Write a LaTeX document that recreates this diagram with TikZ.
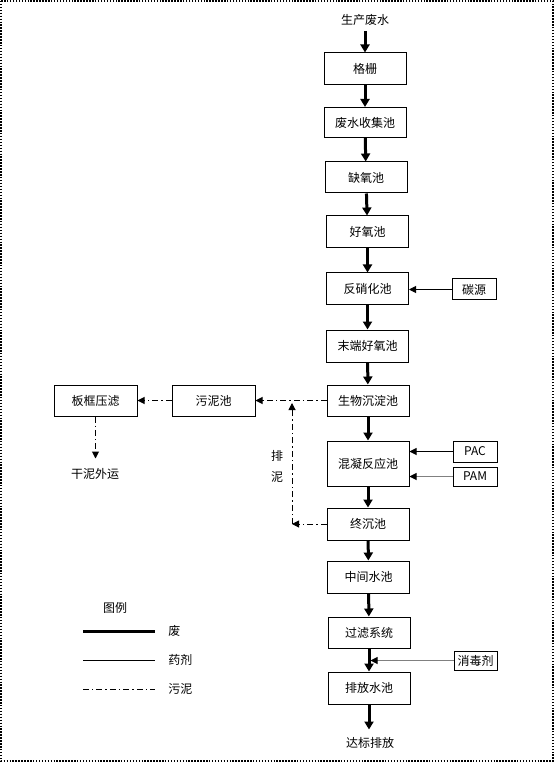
\documentclass[tikz,border=0pt]{standalone}
\usepackage{fontspec}
\setmainfont{Noto Sans CJK SC}
\usetikzlibrary{arrows.meta}
\begin{document}
\begin{tikzpicture}[x=0.75pt,y=-0.75pt,
  box/.style={draw,line width=0.75pt,minimum width=61.5pt,minimum height=24pt,inner sep=0pt,font=\fontsize{9pt}{10pt}\selectfont},
  sbox/.style={draw,line width=0.75pt,minimum width=33pt,minimum height=15pt,inner sep=0pt,font=\fontsize{9pt}{10pt}\selectfont},
  lbl/.style={inner sep=0pt,font=\fontsize{9pt}{10pt}\selectfont},
  water/.style={line width=2.25pt,-{Triangle[length=6pt,width=6.75pt]}},
  chem/.style={line width=0.75pt,-{Triangle[length=5.25pt,width=5.25pt]}},
  graychem/.style={line width=0.75pt,draw=black!50,-{Triangle[length=5.25pt,width=5.25pt,color=black]}},
  sludge/.style={line width=0.75pt,dash pattern=on 4.5pt off 2.25pt on 1.1pt off 2.25pt,-{Triangle[length=5.25pt,width=5.25pt]}},
  sludgeline/.style={line width=0.75pt,dash pattern=on 4.5pt off 2.25pt on 1.1pt off 2.25pt}]
\useasboundingbox (0,0) rectangle (554,762);
\draw[line width=1.1pt,dash pattern=on 1.1pt off 1.1pt] (1,1) rectangle (553,761);

\node[lbl] (src) at (365,20) {生产废水};
\node[box] (gs) at (365,69) {格栅};
\node[box,minimum height=22.5pt] (sj) at (365,122.5) {废水收集池};
\node[box,minimum height=23.25pt] (qy) at (366,177.5) {缺氧池};
\node[box] (hy) at (367.5,232) {好氧池};
\node[box] (fx) at (367.5,289) {反硝化池};
\node[box] (md) at (367.5,346) {末端好氧池};
\node[box,minimum height=23.25pt] (sw) at (368,400.5) {生物沉淀池};
\node[box,minimum height=33.75pt] (hn) at (368,463.5) {混凝反应池};
\node[box] (zc) at (368,524) {终沉池};
\node[box] (zj) at (368.5,577) {中间水池};
\node[box,minimum height=23.25pt] (gl) at (369,632.5) {过滤系统};
\node[box] (pf) at (369,688) {排放水池};
\node[lbl] (out) at (370,743) {达标排放};

\node[sbox,minimum height=15.75pt] (ty) at (474,289.5) {碳源};
\node[sbox,minimum height=15.75pt] (pac) at (475,451.5) {PAC};
\node[sbox,minimum height=14.25pt] (pam) at (475,476.5) {PAM};
\node[sbox,minimum width=32.25pt,minimum height=14.25pt] (xd) at (475.5,660.5) {消毒剂};

\node[box,minimum width=62.25pt,minimum height=23.25pt] (wn) at (213.5,400.5) {污泥池};
\node[box,minimum width=62.25pt,minimum height=23.25pt] (bk) at (95.5,400.5) {板框压滤};
\node[lbl] (gn) at (95,474) {干泥外运};
\node[lbl] (pn1) at (277,456) {排};
\node[lbl] (pn2) at (277,477) {泥};

% water line
\draw[water] (src.south) ++(0,5) coordinate (s0) -- (gs.north);
\draw[water] (gs) -- (sj);
\draw[water] (sj) -- (qy);
\draw[water] (qy) -- (hy);
\draw[water] (hy) -- (fx);
\draw[water] (fx) -- (md);
\draw[water] (md) -- (sw);
\draw[water] (sw) -- (hn);
\draw[water] (hn) -- (zc);
\draw[water] (zc) -- (zj);
\draw[water] (zj) -- (gl);
\draw[water] (gl) -- (pf);
\draw[water] (pf.south) -- ++(0,25) coordinate (pe);

% chemicals
\draw[chem] (ty.west) -- (ty.west -| fx.east);
\draw[chem] (pac.west) -- (pac.west -| hn.east);
\draw[graychem] (pam.west) -- (pam.west -| hn.east);
\coordinate (xj) at (370.5,660.5);
\draw[graychem] (xd.west) -- (xj);

% sludge
\draw[sludge] (sw.west) -- (wn.east);
\draw[sludge] (wn.west) -- (bk.east);
\draw[sludge] (bk.south) -- ++(0,42);
\coordinate (pc) at (292,524);
\coordinate (pt) at (292,403);
\draw[sludge] (zc.west) -- (pc);
\draw[sludge] (pc) -- (pt);

% legend
\node[lbl] (tl) at (115,608) {图例};
\coordinate (l1a) at (83,631); \coordinate (l1b) at (155,631);
\coordinate (l2a) at (83,660); \coordinate (l2b) at (155,660);
\coordinate (l3a) at (83,689); \coordinate (l3b) at (155,689);
\draw[line width=2.25pt] (l1a) -- (l1b);
\draw[line width=0.75pt] (l2a) -- (l2b);
\draw[sludgeline] (l3a) -- (l3b);
\node[lbl,anchor=west] (t1) at (168,631) {废};
\node[lbl,anchor=west] (t2) at (168,660) {药剂};
\node[lbl,anchor=west] (t3) at (168,689) {污泥};
\end{tikzpicture}
\end{document}
